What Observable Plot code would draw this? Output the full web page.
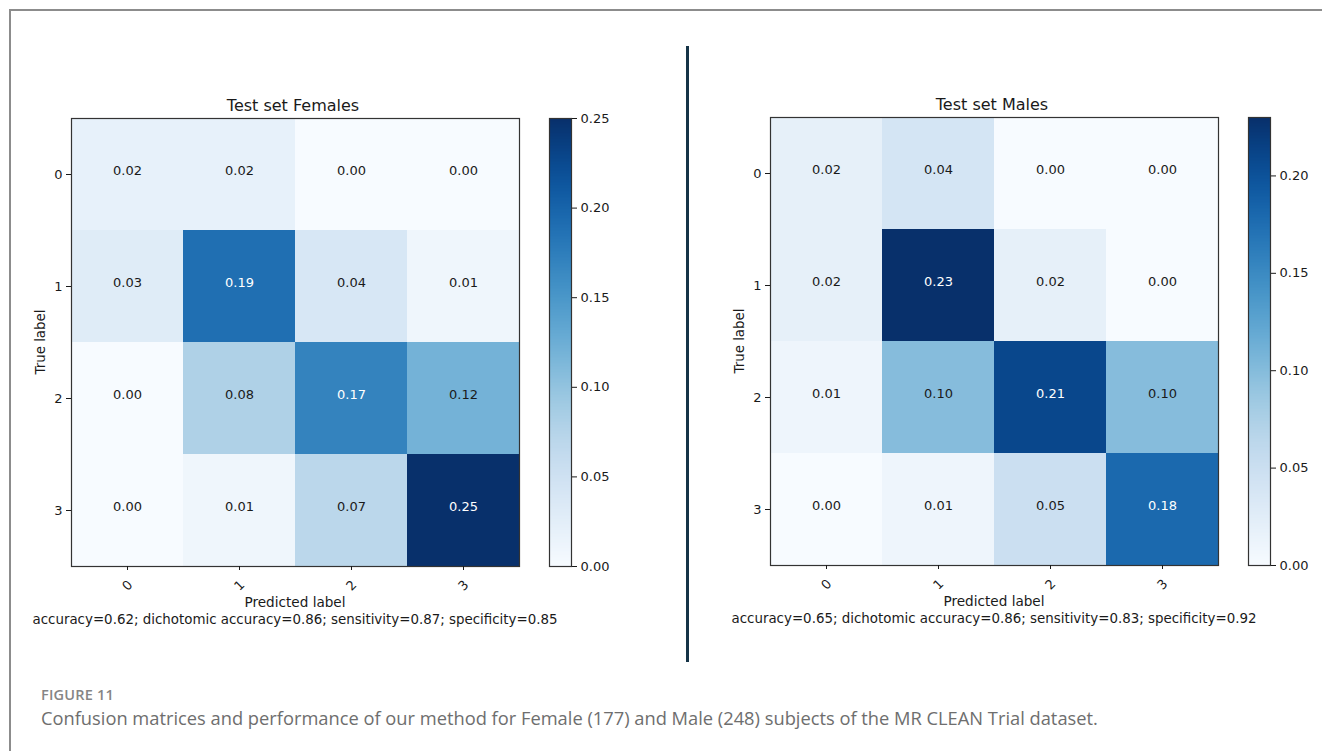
<!DOCTYPE html>
<html><head><meta charset="utf-8">
<script src="https://cdn.jsdelivr.net/npm/d3@7"></script>
<script src="https://cdn.jsdelivr.net/npm/@observablehq/plot@0.6"></script>
<style>
body{margin:0;background:#fff;width:1322px;height:751px;overflow:hidden;position:relative;font-family:"DejaVu Sans",sans-serif;}
.abs{position:absolute;}
.abs svg{max-width:none !important;display:block;}
.lbl{position:absolute;transform:translate(-50%,-50%);white-space:nowrap;line-height:1;color:#1a1a1a;font-size:13px;font-family:"DejaVu Sans",sans-serif;}
.cap{position:absolute;left:41px;white-space:nowrap;font-family:"Open Sans",sans-serif;color:#6e6e6e;}
</style></head><body>
<div class="abs" style="left:9px;top:9px;width:1400px;height:800px;border-left:2px solid #8c8c8c;border-top:2px solid #8c8c8c;"></div>
<div class="abs" style="left:686px;top:46px;width:3px;height:616px;background:#163447;"></div>
<div class="cap" style="top:685px;font-size:14.5px;font-weight:600;color:#858585;letter-spacing:0.2px;">FIGURE 11</div>
<div class="cap" style="top:705px;font-size:18.3px;">Confusion matrices and performance of our method for Female (177) and Male (248) subjects of the MR CLEAN Trial dataset.</div>
<div id="root"></div>
<script>
const labels = ["0", "1", "2", "3"];
const femaleValues = [
  [0.02, 0.02, 0.00, 0.00],
  [0.03, 0.19, 0.04, 0.01],
  [0.00, 0.08, 0.17, 0.12],
  [0.00, 0.01, 0.07, 0.25]
];
const maleValues = [
  [0.02, 0.04, 0.00, 0.00],
  [0.02, 0.23, 0.02, 0.00],
  [0.01, 0.10, 0.21, 0.10],
  [0.00, 0.01, 0.05, 0.18]
];
const femaleTicks = [0, 0.05, 0.10, 0.15, 0.20, 0.25];
const maleTicks = [0, 0.05, 0.10, 0.15, 0.20];
const femaleTitle = "Test set Females";
const maleTitle = "Test set Males";
const femaleStats = "accuracy=0.62; dichotomic accuracy=0.86; sensitivity=0.87; specificity=0.85";
const maleStats = "accuracy=0.65; dichotomic accuracy=0.86; sensitivity=0.83; specificity=0.92";
const xLabel = "Predicted label";
const yLabel = "True label";

const root = document.getElementById("root");
const INK = "#1a1a1a";

function place(el, left, top) {
  const d = document.createElement("div");
  d.className = "abs";
  d.style.left = left + "px";
  d.style.top = top + "px";
  el.style.maxWidth = "none";
  d.appendChild(el);
  root.appendChild(d);
}
function label(text, x, y, size, rotate) {
  const d = document.createElement("div");
  d.className = "lbl";
  d.textContent = text;
  d.style.left = x + "px";
  d.style.top = y + "px";
  if (size) d.style.fontSize = size + "px";
  if (rotate) d.style.transform = "translate(-50%,-50%) rotate(" + rotate + "deg)";
  root.appendChild(d);
}

function matrix(values) {
  const max = d3.max(values.flat());
  const data = values.flatMap((row, i) => row.map((v, j) => ({t: labels[i], p: labels[j], value: v})));
  return Plot.plot({
    width: 540, height: 520,
    marginLeft: 71, marginTop: 28, marginRight: 21, marginBottom: 44,
    style: {fontFamily: "DejaVu Sans", fontSize: "13px", color: INK, background: "transparent", overflow: "visible"},
    x: {domain: labels, padding: 0, label: null},
    y: {domain: labels, padding: 0, label: null},
    color: {type: "linear", scheme: "blues", domain: [0, max]},
    marks: [
      Plot.cell(data, {x: "p", y: "t", fill: "value", inset: 0, shapeRendering: "crispEdges"}),
      Plot.text(data.filter(d => d.value <= max / 2), {x: "p", y: "t", text: d => d.value.toFixed(2), fill: INK, fontSize: 13, dy: -4}),
      Plot.text(data.filter(d => d.value > max / 2), {x: "p", y: "t", text: d => d.value.toFixed(2), fill: "white", fontSize: 13, dy: -4}),
      Plot.frame({stroke: "#333", strokeWidth: 1.2}),
      Plot.axisX({tickSize: 4, tickFormat: () => "", label: null}),
      Plot.text(labels, {x: d => d, frameAnchor: "bottom", dy: 19, rotate: -45, text: d => d, textAnchor: "middle", lineAnchor: "middle", fill: INK, fontSize: 13}),
      Plot.axisY({tickSize: 5, tickPadding: 4, label: null, fontSize: 13})
    ]
  });
}

function colorbar(max, ticks) {
  return Plot.plot({
    width: 70, height: 520,
    marginLeft: 1, marginRight: 47, marginTop: 28, marginBottom: 44,
    style: {fontFamily: "DejaVu Sans", fontSize: "13px", color: INK, background: "transparent", overflow: "visible"},
    x: {domain: [0, 1], axis: null},
    y: {domain: [0, max], label: null},
    color: {type: "linear", scheme: "blues", domain: [0, max]},
    marks: [
      Plot.raster({x1: 0, x2: 1, y1: 0, y2: max, width: 1, height: 300, fill: (x, y) => y, imageRendering: "auto"}),
      Plot.frame({stroke: "#333", strokeWidth: 1.2}),
      Plot.axisY({anchor: "right", ticks: ticks, tickFormat: d3.format(".2f"), tickSize: 5, tickPadding: 4, label: null, fontSize: 13})
    ]
  });
}

function panel(values, ticks, title, stats, ox, oy) {
  const max = d3.max(values.flat());
  place(matrix(values), ox, oy);
  place(colorbar(max, ticks), ox + 548, oy);
  const cx = ox + 71 + 224;
  label(title, cx - 2, oy + 16, 16);
  label(xLabel, cx, oy + 513, 13.6);
  label(stats, cx, oy + 530, 13.4);
  label(yLabel, ox + 41, oy + 252, 13.4, -90);
}

panel(femaleValues, femaleTicks, femaleTitle, femaleStats, 0, 90);
panel(maleValues, maleTicks, maleTitle, maleStats, 699, 89);
</script>
</body></html>
